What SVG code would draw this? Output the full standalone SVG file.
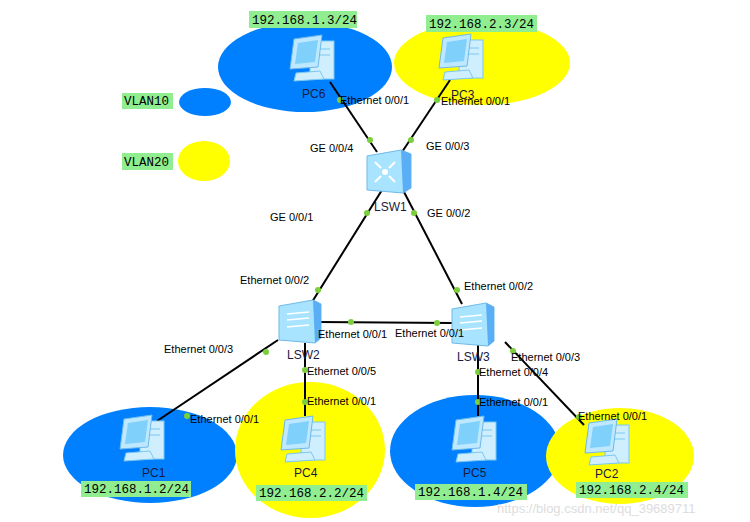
<svg xmlns="http://www.w3.org/2000/svg" xmlns:xlink="http://www.w3.org/1999/xlink" width="750" height="522" viewBox="0 0 750 522">
<style>
.b{fill:#0080ff}.y{fill:#ffff00}
.t{font-family:"Liberation Sans",Arial,sans-serif;font-size:11px;fill:#000}
.n{font-family:"Liberation Sans",Arial,sans-serif;font-size:12px;fill:#1a1a40}
.ip{font-family:"Liberation Mono","DejaVu Sans Mono",monospace;font-size:12.5px;fill:#000}
.lb{fill:#90ee90}
.ln{stroke:#000;stroke-width:2;fill:none}
.d{fill:#7ccf3c}
</style>
<defs>
<g id="pc">
<rect x="22" y="6" width="24" height="38" fill="#cfefff" stroke="#7cc7ef"/>
<line x1="26" y1="14" x2="42" y2="14" stroke="#7cc7ef"/>
<line x1="26" y1="20" x2="42" y2="20" stroke="#7cc7ef"/>
<polygon points="6,4 34,0 30,32 2,34" fill="#bde8ff" stroke="#6fb9ea"/>
<polygon points="10,8 30,5 27,27 7,29" fill="#7fd0fb"/>
<polygon points="8,38 32,36 36,44 6,46" fill="#cfefff" stroke="#7cc7ef"/>
</g>
<g id="sw">
<polygon points="0,6 34,0 42,4 42,38 36,43 0,40" fill="#a8e4ff" stroke="#6fb9ea"/>
<polygon points="34,0 42,4 42,38 36,43" fill="#5aaef5"/>
<line x1="8" y1="14" x2="30" y2="12" stroke="#fff" stroke-width="1.5"/>
<line x1="8" y1="20" x2="30" y2="18" stroke="#fff" stroke-width="1.5"/>
<line x1="8" y1="27" x2="30" y2="25" stroke="#fff" stroke-width="1.5"/>
</g>
<g id="core">
<polygon points="0,6 34,0 44,4 44,38 36,43 0,40" fill="#a8e4ff" stroke="#6fb9ea"/>
<polygon points="34,0 44,4 44,38 36,43" fill="#5aaef5"/>
<circle cx="18" cy="22" r="3" fill="#fff"/>
<path d="M8 12l6 6M28 12l-6 6M8 32l6-6M28 32l-6-6" stroke="#fff" stroke-width="2"/>
</g>
</defs>
<rect width="750" height="522" fill="#fff"/>
<g id="areas">
<ellipse class="b" cx="305" cy="67" rx="87" ry="45"/>
<ellipse class="y" cx="482" cy="63" rx="88" ry="42"/>
<ellipse class="b" cx="205" cy="102" rx="26" ry="14"/>
<ellipse class="y" cx="204" cy="161" rx="26" ry="20"/>
<ellipse class="b" cx="150" cy="455" rx="87" ry="48"/>
<ellipse class="y" cx="310" cy="450" rx="75" ry="68"/>
<ellipse class="b" cx="475" cy="451" rx="85" ry="56"/>
<ellipse class="y" cx="620" cy="456" rx="74" ry="48"/>
</g>
<g id="connectors">
<line class="ln" x1="330" y1="82" x2="377" y2="152"/>
<line class="ln" x1="450" y1="80" x2="402" y2="152"/>
<line class="ln" x1="382" y1="190" x2="312" y2="302"/>
<line class="ln" x1="403" y1="190" x2="462" y2="304"/>
<line class="ln" x1="318" y1="322" x2="452" y2="323"/>
<line class="ln" x1="278" y1="340" x2="157" y2="421"/>
<line class="ln" x1="305" y1="343" x2="305" y2="416"/>
<line class="ln" x1="478" y1="345" x2="478" y2="416"/>
<line class="ln" x1="505" y1="342" x2="584" y2="425"/>
<g class="d">
<circle cx="340" cy="100" r="3"/><circle cx="370" cy="140" r="3"/>
<circle cx="437" cy="100" r="3"/><circle cx="411" cy="140" r="3"/>
<circle cx="367" cy="213" r="3"/><circle cx="318" cy="290" r="3"/>
<circle cx="414" cy="213" r="3"/><circle cx="457" cy="290" r="3"/>
<circle cx="351" cy="322" r="3"/><circle cx="437" cy="323" r="3"/>
<circle cx="266" cy="352" r="3"/><circle cx="187" cy="416" r="3"/>
<circle cx="305" cy="370" r="3"/><circle cx="305" cy="402" r="3"/>
<circle cx="478" cy="372" r="3"/><circle cx="478" cy="402" r="3"/>
<circle cx="513" cy="351" r="3"/><circle cx="579" cy="417" r="3"/>
</g>
</g>
<g id="PC6"><use xlink:href="#pc" x="288" y="35"/><text class="n" x="302" y="98">PC6</text></g>
<g id="PC3"><use xlink:href="#pc" x="437" y="34"/><text class="n" x="451" y="99">PC3</text></g>
<g id="PC1"><use xlink:href="#pc" x="118" y="415"/><text class="n" x="142" y="477">PC1</text></g>
<g id="PC4"><use xlink:href="#pc" x="279" y="416"/><text class="n" x="294" y="477">PC4</text></g>
<g id="PC5"><use xlink:href="#pc" x="450" y="416"/><text class="n" x="463" y="477">PC5</text></g>
<g id="PC2"><use xlink:href="#pc" x="583" y="419"/><text class="n" x="595" y="478">PC2</text></g>
<g id="LSW1"><use xlink:href="#core" x="367" y="150"/><text class="n" x="374" y="211">LSW1</text></g>
<g id="LSW2"><use xlink:href="#sw" x="279" y="300"/><text class="n" x="287" y="359">LSW2</text></g>
<g id="LSW3"><use xlink:href="#sw" x="452" y="303"/><text class="n" x="457" y="361">LSW3</text></g>
<g id="ports">
<text class="t" x="340" y="104">Ethernet 0/0/1</text>
<text class="t" x="441" y="105">Ethernet 0/0/1</text>
<text class="t" x="310" y="152">GE 0/0/4</text>
<text class="t" x="426" y="150">GE 0/0/3</text>
<text class="t" x="270" y="221">GE 0/0/1</text>
<text class="t" x="427" y="217">GE 0/0/2</text>
<text class="t" x="240" y="284">Ethernet 0/0/2</text>
<text class="t" x="464" y="290">Ethernet 0/0/2</text>
<text class="t" x="318" y="338">Ethernet 0/0/1</text>
<text class="t" x="395" y="337">Ethernet 0/0/1</text>
<text class="t" x="164" y="353">Ethernet 0/0/3</text>
<text class="t" x="511" y="361">Ethernet 0/0/3</text>
<text class="t" x="307" y="375">Ethernet 0/0/5</text>
<text class="t" x="479" y="376">Ethernet 0/0/4</text>
<text class="t" x="307" y="405">Ethernet 0/0/1</text>
<text class="t" x="479" y="406">Ethernet 0/0/1</text>
<text class="t" x="190" y="423">Ethernet 0/0/1</text>
<text class="t" x="578" y="420">Ethernet 0/0/1</text>
</g>
<g id="labels">
<rect class="lb" x="249" y="11" width="108" height="17"/><text class="ip" x="252" y="24">192.168.1.3/24</text>
<rect class="lb" x="426" y="15" width="111" height="17"/><text class="ip" x="429" y="28">192.168.2.3/24</text>
<rect class="lb" x="122" y="93" width="51" height="16"/><text class="ip" x="124" y="105">VLAN10</text>
<rect class="lb" x="122" y="153" width="51" height="17"/><text class="ip" x="124" y="166">VLAN20</text>
<rect class="lb" x="81" y="481" width="110" height="16"/><text class="ip" x="84" y="493">192.168.1.2/24</text>
<rect class="lb" x="256" y="485" width="111" height="16"/><text class="ip" x="259" y="497">192.168.2.2/24</text>
<rect class="lb" x="415" y="484" width="112" height="16"/><text class="ip" x="418" y="496">192.168.1.4/24</text>
<rect class="lb" x="576" y="482" width="112" height="16"/><text class="ip" x="579" y="494">192.168.2.4/24</text>
</g>
<text x="497" y="513" font-family="Liberation Sans,Arial,sans-serif" font-size="13" fill="#dddddd">https://blog.csdn.net/qq_39689711</text>
</svg>
